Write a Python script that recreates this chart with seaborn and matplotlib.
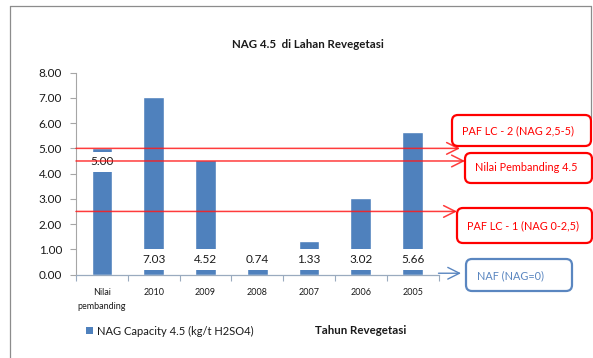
import matplotlib
matplotlib.use("Agg")
import matplotlib.pyplot as plt
import pandas as pd
import seaborn as sns
from matplotlib.patches import FancyBboxPatch
from matplotlib.lines import Line2D
from matplotlib.transforms import IdentityTransform

# NAG capacity per revegetation year, plus the reference value
categories = ["Nilai\npembanding", "2010", "2009", "2008", "2007", "2006", "2005"]
nag_capacity = [5.00, 7.03, 4.52, 0.74, 1.33, 3.02, 5.66]

# classification guide lines (kg/t H2SO4) and their call-out texts
threshold_levels = [5.0, 4.5, 2.5]
threshold_labels = ["PAF LC - 2 (NAG 2,5-5)", "Nilai Pembanding 4.5", "PAF LC - 1 (NAG 0-2,5)"]
naf_level = 0.05
naf_label = "NAF (NAG=0)"
yticks = [0, 1, 2, 3, 4, 5, 6, 7, 8]

W, H = 593, 358
BAR = "#4F81BD"
RED = "#FF1A1A"
BLUE = "#5A86C0"

sns.set_theme(style="white")
plt.rcParams["font.family"] = ["Lato", "DejaVu Sans"]

fig = plt.figure(figsize=(W / 100, H / 100), dpi=100)
ax = fig.add_axes([76 / W, 1 - 274.5 / H, 362.5 / W, (274.5 - 72.7) / H])

df = pd.DataFrame({"Tahun": categories, "NAG": nag_capacity})
sns.barplot(data=df, x="Tahun", y="NAG", color=BAR, saturation=1,
            width=0.4, ax=ax, zorder=2)

# value labels on white boxes: reference value near its top, years near the base
for i, v in enumerate(nag_capacity):
    ypos = v - 0.54 if i == 0 else 0.6
    ax.text(i, ypos, f"{v:.2f}", ha="center", va="center", fontsize=8.5,
            color="#1a1a1a", zorder=3,
            bbox=dict(boxstyle="square,pad=0.42", fc="white", ec="none"))

ax.set_xlim(-0.5, len(categories) - 0.5)
ax.set_ylim(0, 8)
ax.set_yticks(yticks)
ax.set_yticklabels([f"{t:.2f}" for t in yticks], fontsize=8.5, color="#1a1a1a")
ax.set_xticks(range(len(categories)))
ax.set_xticklabels(categories, fontsize=6.5, color="#1a1a1a", linespacing=1.6)
ax.set_xticks([i - 0.5 for i in range(len(categories) + 1)], minor=True)
ax.tick_params(axis="x", which="major", length=0, pad=10)
ax.tick_params(axis="x", which="minor", bottom=True, length=4, color="#9aabbf", width=0.8)
ax.tick_params(axis="y", left=True, length=4, color="#a6a6a6", width=0.8, pad=6)
ax.set_xlabel("")
ax.set_ylabel("")
for s in ["top", "right"]:
    ax.spines[s].set_visible(False)
ax.spines["left"].set_color("#a6a6a6")
ax.spines["left"].set_linewidth(0.8)
ax.spines["bottom"].set_color("#9aabbf")
ax.spines["bottom"].set_linewidth(0.9)

# guide lines running from the y axis out to the call-out boxes, drawn over bars and labels
axis_w = 362.5
tips_px = [460, 465, 457]
for lvl, tip in zip(threshold_levels, tips_px):
    ax.annotate("", xy=((tip - 76) / axis_w, lvl), xycoords=ax.get_yaxis_transform(),
                xytext=(0, lvl), textcoords=ax.get_yaxis_transform(),
                arrowprops=dict(arrowstyle="->,head_length=0.7,head_width=0.35",
                                color=RED, lw=1.1, alpha=0.85, shrinkA=0, shrinkB=0),
                annotation_clip=False, zorder=5)
ax.annotate("", xy=((461 - 76) / axis_w, naf_level), xycoords=ax.get_yaxis_transform(),
            xytext=(1.0, naf_level), textcoords=ax.get_yaxis_transform(),
            arrowprops=dict(arrowstyle="->,head_length=0.7,head_width=0.35",
                            color=BLUE, lw=1.0, shrinkA=0, shrinkB=0),
            annotation_clip=False, zorder=5)


def px(x, y):
    return x / W, 1 - y / H


# call-out boxes (pixel rectangles: left, top, right, bottom)
boxes = [(452, 115, 591, 146), (465, 153, 592, 183), (457, 208, 592, 243)]
for (x0, y0, x1, y1), label in zip(boxes, threshold_labels):
    fig.add_artist(FancyBboxPatch((x0, H - y1), x1 - x0, y1 - y0,
                                  boxstyle="round,pad=0,rounding_size=6",
                                  transform=IdentityTransform(), fc="white",
                                  ec="#FF0000", lw=1.6, zorder=5))
    fig.text(*px(x0 + 10, (y0 + y1) / 2), label, ha="left", va="center",
             fontsize=7.8, color="#FF0000", zorder=6)

fig.add_artist(FancyBboxPatch((466, H - 291), 106, 32,
                              boxstyle="round,pad=0,rounding_size=6",
                              transform=IdentityTransform(), fc="white",
                              ec=BLUE, lw=1.6, zorder=5))
fig.text(*px(477, 276), naf_label, ha="left", va="center", fontsize=7.8,
         color=BLUE, zorder=6)

# outer chart frame
frame = dict(color="#8c8c8c", lw=0.9, transform=fig.transFigure)
fig.add_artist(Line2D([10 / W, 10 / W], [0, 1 - 6 / H], **frame))
fig.add_artist(Line2D([10 / W, 591 / W], [1 - 6 / H, 1 - 6 / H], **frame))
fig.add_artist(Line2D([591 / W, 591 / W], [1 - 6 / H, 1 - 118 / H], **frame))

fig.text(*px(308, 45), "NAG 4.5  di Lahan Revegetasi", ha="center", va="center",
         fontsize=8.3, fontweight="bold", color="#1a1a1a")
fig.text(*px(361, 330), "Tahun Revegetasi", ha="center", va="center",
         fontsize=8.3, fontweight="bold", color="#1a1a1a")

handle = plt.Rectangle((0, 0), 1, 1, fc=BAR, ec="none")
fig.legend([handle], ["NAG Capacity 4.5 (kg/t H2SO4)"], loc="center left",
           bbox_to_anchor=px(86, 331), frameon=False, fontsize=8,
           handlelength=0.6, handleheight=0.6, handletextpad=0.4, borderpad=0,
           borderaxespad=0, labelcolor="#1a1a1a")

fig.savefig("out.png", dpi=100, facecolor="white")
